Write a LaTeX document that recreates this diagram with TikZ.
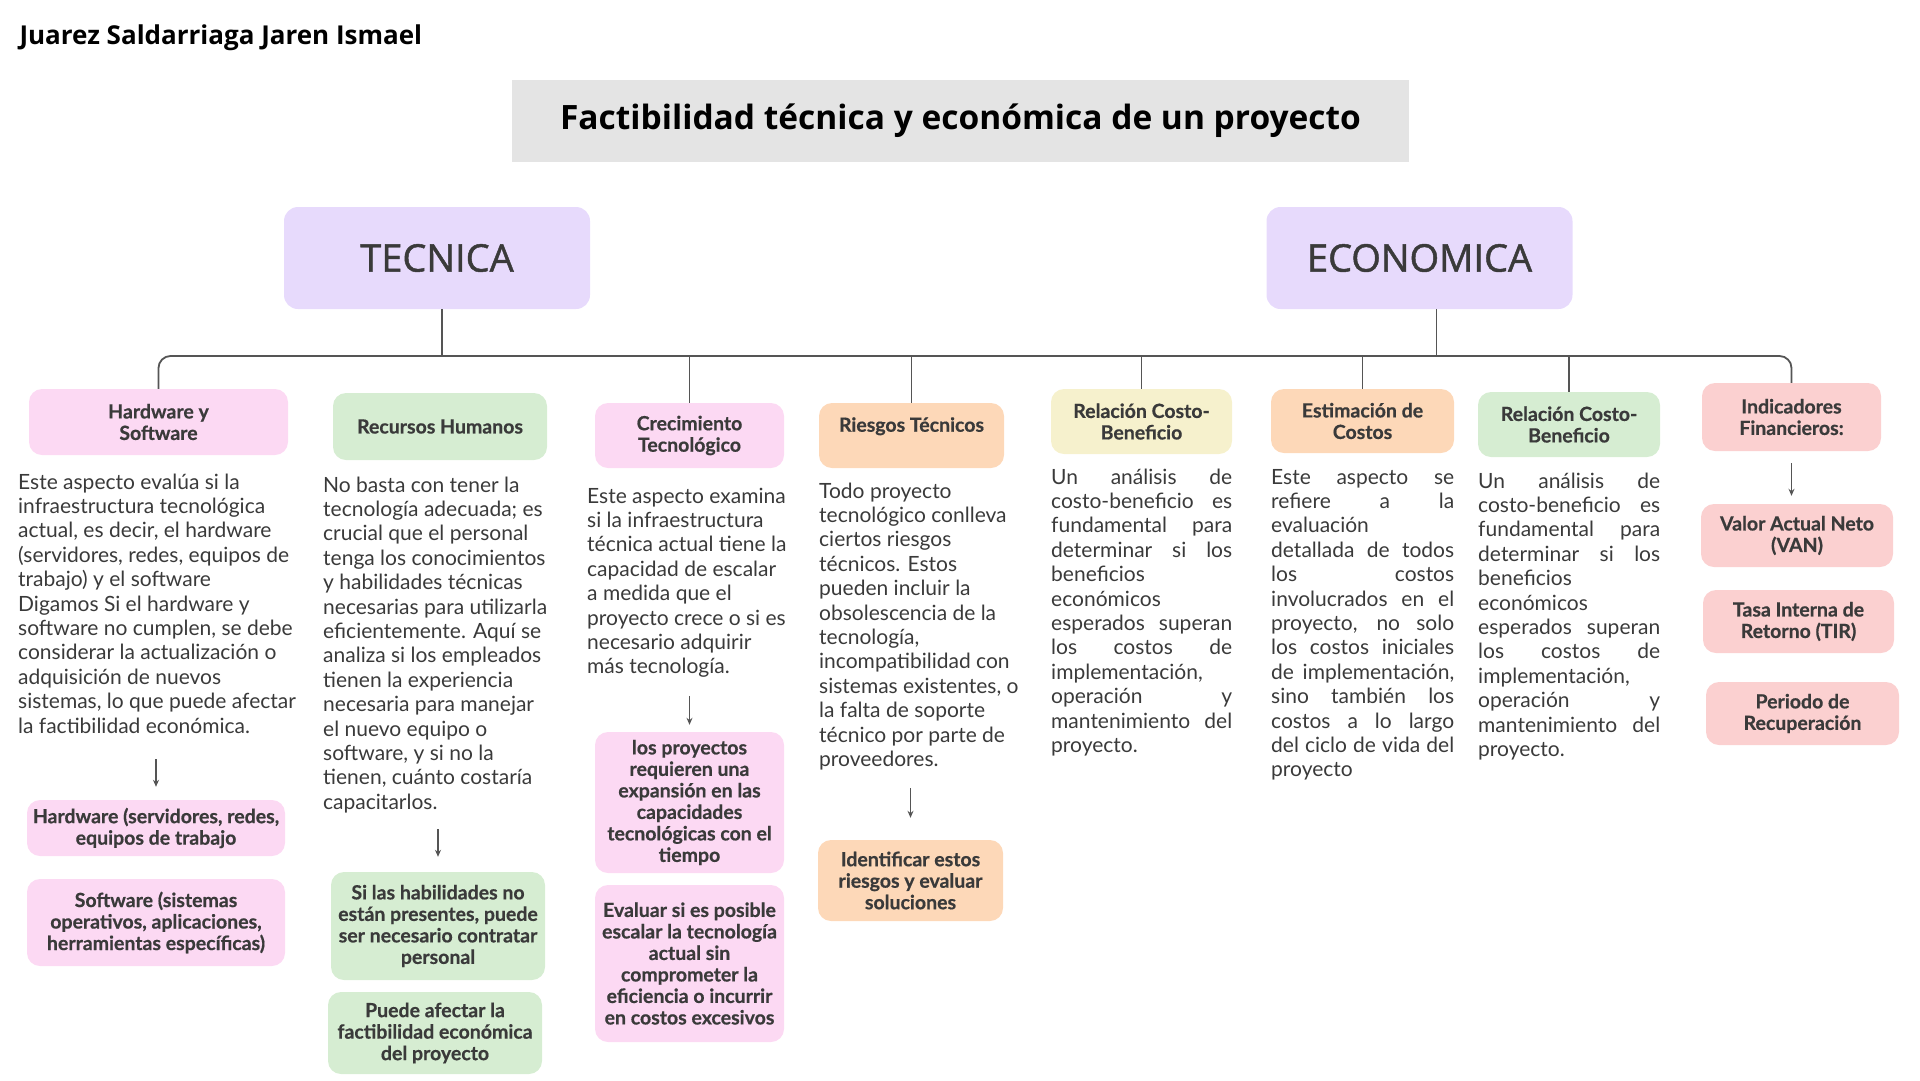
\documentclass[tikz,border=0pt]{standalone}
\usepackage{fontspec}
\setmainfont{Lato}[BoldFeatures={FakeBold=0.6}]
\newfontfamily\headfont{Open Sans}
\newfontfamily\headsemi{Open Sans}[FakeBold=1.2]
\usetikzlibrary{arrows.meta, positioning}
\definecolor{boxlila}{RGB}{231,218,252}
\definecolor{boxpink}{RGB}{252,217,243}
\definecolor{boxgreen}{RGB}{214,237,210}
\definecolor{boxpeach}{RGB}{253,216,184}
\definecolor{boxyellow}{RGB}{246,241,205}
\definecolor{boxrose}{RGB}{251,208,208}
\definecolor{titlegray}{RGB}{228,228,228}
\definecolor{textdark}{RGB}{58,58,58}
\definecolor{linegray}{RGB}{85,85,85}
\newcommand{\jline}[2][181pt]{\makebox[#1][s]{#2}}

\begin{document}
\begin{tikzpicture}[x=1pt, y=-1pt,
  head/.style={rectangle, rounded corners=14pt, fill=boxlila,
               minimum width=306, minimum height=102,
               font=\headsemi\fontsize{38}{40}\selectfont, text=textdark},
  box/.style={rectangle, rounded corners=13pt, align=center, inner sep=2pt,
              font=\bfseries\fontsize{19.5}{21.5}\selectfont, text=textdark},
  txt/.style={anchor=base west, inner sep=0pt, align=left,
              font=\fontsize{21}{24.4}\selectfont, text=textdark},
  link/.style={draw=linegray, line width=1.8pt},
  arr/.style={-{Stealth[length=7pt, width=6pt]}, line width=1.8pt, draw=linegray},
]
\useasboundingbox (0,0) rectangle (1920,1080);

% title
\node[anchor=west, font=\headfont\bfseries\fontsize{26}{28}\selectfont] (author) at (16,38)
  {Juarez Saldarriaga Jaren Ismael};
\node[fill=titlegray, minimum width=897, minimum height=82,
      font=\headfont\bfseries\fontsize{33.5}{36}\selectfont] (title) at (960.5,121)
  {Factibilidad técnica y económica de un proyecto};

% TECNICA
\node[head] (tec) at (437,258) {TECNICA};
\node[box, fill=boxpink,  minimum width=259, minimum height=66] (hw) at (158.5,422) {Hardware y\\Software};
\node[box, fill=boxgreen, minimum width=214, minimum height=67] (rh) at (440,426.5) {Recursos Humanos};
\node[box, fill=boxpink,  minimum width=189, minimum height=65] (ct) at (689.5,435.5) {Crecimiento\\Tecnológico};
\node[box, fill=boxpeach, minimum width=185, minimum height=65, text depth=22pt] (rt) at (911.5,435.5) {Riesgos Técnicos};

% base anchor = last line
\node[txt] (hwtxt) at (18,733) {Este aspecto evalúa si la\\infraestructura tecnológica\\actual, es decir, el hardware\\(servidores, redes, equipos de\\trabajo) y el software\\Digamos Si el hardware y\\software no cumplen, se debe\\considerar la actualización o\\adquisición de nuevos\\sistemas, lo que puede afectar\\la factibilidad económica.};
\node[txt] (rhtxt) at (323,809.2) {No basta con tener la\\tecnología adecuada; es\\crucial que el personal\\tenga los conocimientos\\y habilidades técnicas\\necesarias para utilizarla\\eficientemente. Aquí se\\analiza si los empleados\\tienen la experiencia\\necesaria para manejar\\el nuevo equipo o\\software, y si no la\\tienen, cuánto costaría\\capacitarlos.};
\node[txt] (cttxt) at (587,673.8) {Este aspecto examina\\si la infraestructura\\técnica actual tiene la\\capacidad de escalar\\a medida que el\\proyecto crece o si es\\necesario adquirir\\más tecnología.};
\node[txt] (rttxt) at (819,766.4) {Todo proyecto\\tecnológico conlleva\\ciertos riesgos\\técnicos. Estos\\pueden incluir la\\obsolescencia de la\\tecnología,\\incompatibilidad con\\sistemas existentes, o\\la falta de soporte\\técnico por parte de\\proveedores.};

\node[box, fill=boxpink,  minimum width=258, minimum height=56]  (hw1) at (156,828) {Hardware (servidores, redes,\\equipos de trabajo};
\node[box, fill=boxpink,  minimum width=258, minimum height=87]  (hw2) at (156,922.5) {Software (sistemas\\operativos, aplicaciones,\\herramientas específicas)};
\node[box, fill=boxgreen, minimum width=214, minimum height=108] (rh1) at (438,926) {Si las habilidades no\\están presentes, puede\\ser necesario contratar\\personal};
\node[box, fill=boxgreen, minimum width=214, minimum height=82]  (rh2) at (435,1033) {Puede afectar la\\factibilidad económica\\del proyecto};
\node[box, fill=boxpink,  minimum width=189, minimum height=141] (ct1) at (689.5,802.5) {los proyectos\\requieren una\\expansión en las\\capacidades\\tecnológicas con el\\tiempo};
\node[box, fill=boxpink,  minimum width=189, minimum height=157] (ct2) at (689.5,963.5) {Evaluar si es posible\\escalar la tecnología\\actual sin\\comprometer la\\eficiencia o incurrir\\en costos excesivos};
\node[box, fill=boxpeach, minimum width=185, minimum height=81]  (rt1) at (910.5,880.5) {Identificar estos\\riesgos y evaluar\\soluciones};

% ECONOMICA
\node[head] (eco) at (1419.5,258) {ECONOMICA};
\node[box, fill=boxyellow, minimum width=181, minimum height=65] (rcb1) at (1141.5,421.5) {Relación Costo-\\Beneficio};
\node[box, fill=boxpeach,  minimum width=183, minimum height=64] (ec)   at (1362.5,421) {Estimación de\\Costos};
\node[box, fill=boxgreen,  minimum width=182, minimum height=65] (rcb2) at (1569,424.5) {Relación Costo-\\Beneficio};
\node[box, fill=boxrose,   minimum width=179, minimum height=68] (ind)  at (1791.5,417) {Indicadores\\Financieros:};

\node[txt] (rcb1txt) at (1051,752.4) {\jline{Un análisis de}\\\jline{costo-beneficio es}\\\jline{fundamental para}\\\jline{determinar si los}\\beneficios\\económicos\\\jline{esperados superan}\\\jline{los costos de}\\implementación,\\\jline{operación y}\\\jline{mantenimiento del}\\proyecto.};
\node[txt] (ectxt) at (1271,776.8) {\jline[183pt]{Este aspecto se}\\\jline[183pt]{refiere a la}\\evaluación\\\jline[183pt]{detallada de todos}\\\jline[183pt]{los costos}\\\jline[183pt]{involucrados en el}\\\jline[183pt]{proyecto, no solo}\\\jline[183pt]{los costos iniciales}\\\jline[183pt]{de implementación,}\\\jline[183pt]{sino también los}\\\jline[183pt]{costos a lo largo}\\\jline[183pt]{del ciclo de vida del}\\proyecto};
\node[txt] (rcb2txt) at (1478,756.4) {\jline[182pt]{Un análisis de}\\\jline[182pt]{costo-beneficio es}\\\jline[182pt]{fundamental para}\\\jline[182pt]{determinar si los}\\beneficios\\económicos\\\jline[182pt]{esperados superan}\\\jline[182pt]{los costos de}\\implementación,\\\jline[182pt]{operación y}\\\jline[182pt]{mantenimiento del}\\proyecto.};

\node[box, fill=boxrose, minimum width=192, minimum height=63] (van) at (1797,535.5) {Valor Actual Neto\\(VAN)};
\node[box, fill=boxrose, minimum width=191, minimum height=63] (tir) at (1798.5,621.5) {Tasa Interna de\\Retorno (TIR)};
\node[box, fill=boxrose, minimum width=193, minimum height=63] (per) at (1802.5,713.5) {Periodo de\\Recuperación};

% connectors
\coordinate (bus) at (0,356);
\draw[link, rounded corners=12pt] (hw.north) |- (bus -| ind.north) -- (ind.north);
\draw[link] ([xshift=5pt]tec.south) -- ([xshift=5pt]tec.south |- bus);
\draw[link] ([xshift=17pt]eco.south) -- ([xshift=17pt]eco.south |- bus);
\foreach \n in {ct, rt, rcb1, ec, rcb2}
  \draw[link] (\n.north) -- (\n.north |- bus);

\draw[arr, shorten <=26pt, shorten >=13pt] (hwtxt.south -| hw1.north) -- (hw1.north);
\draw[arr, shorten <=16pt, shorten >=15pt] (rhtxt.south -| rh1.north) -- (rh1.north);
\draw[arr, shorten <=18pt, shorten >=7pt]  (cttxt.south -| ct1.north) -- (ct1.north);
\draw[arr, shorten <=18pt, shorten >=22pt] (rttxt.south -| rt1.north) -- (rt1.north);
\draw[arr, shorten <=12pt, shorten >=8pt]  (ind.south) -- (ind.south |- van.north);
\end{tikzpicture}
\end{document}
